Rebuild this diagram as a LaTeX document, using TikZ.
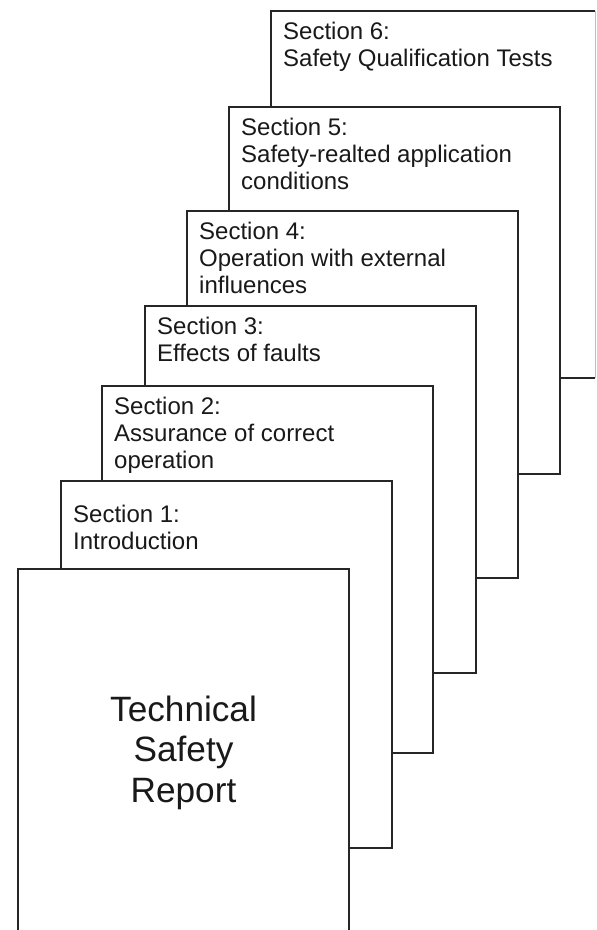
\documentclass[tikz,border=0pt]{standalone}
\usepackage{fontspec}
\setmainfont{Liberation Sans}
\usetikzlibrary{calc}
\begin{document}
\begin{tikzpicture}[x=1pt,y=-1pt,
  page/.style={fill=white, line width=1.3pt, draw=black!85, minimum width=331pt, minimum height=367pt,
    anchor=north west, inner sep=0pt, outer sep=0pt},
  sectext/.style={anchor=north west, align=left, inner sep=0pt, text=black!90,
    font=\fontsize{24}{27.2}\selectfont},
  titletext/.style={align=center, inner sep=0pt, text=black!90,
    font=\fontsize{35.2}{40.5}\selectfont}]
\useasboundingbox (0,0) rectangle (597,930);
\fill[white] (0,0) rectangle (597,930);

% Section 6 (back)
\node[page, draw=none, minimum width=324pt] (s6) at (271,11) {};
\draw[line width=1.3pt, black!85] (s6.north east) -- (s6.north west) -- (s6.south west) -- (s6.south east);
\draw[line width=0.8pt, black!25] (s6.north east) -- (s6.south east);
\node[sectext] (t6) at ($(s6.north west)+(12,11)$) {Section 6:\\Safety Qualification Tests};

\node[page] (s5) at (229,107) {};
\node[sectext] (t5) at ($(s5.north west)+(12,11)$) {Section 5:\\Safety-realted application\\conditions};

\node[page] (s4) at (187,211) {};
\node[sectext] (t4) at ($(s4.north west)+(12,11)$) {Section 4:\\Operation with external\\influences};

\node[page] (s3) at (145,306) {};
\node[sectext] (t3) at ($(s3.north west)+(12,11)$) {Section 3:\\Effects of faults};

\node[page] (s2) at (102,386) {};
\node[sectext] (t2) at ($(s2.north west)+(12,11)$) {Section 2:\\Assurance of correct\\operation};

\node[page] (s1) at (61,481) {};
\node[sectext] (t1) at ($(s1.north west)+(12,24)$) {Section 1:\\Introduction};

\node[page] (main) at (18,569) {};
\node[titletext] (title) at (main.center) {Technical\\Safety\\Report};
\end{tikzpicture}
\end{document}
